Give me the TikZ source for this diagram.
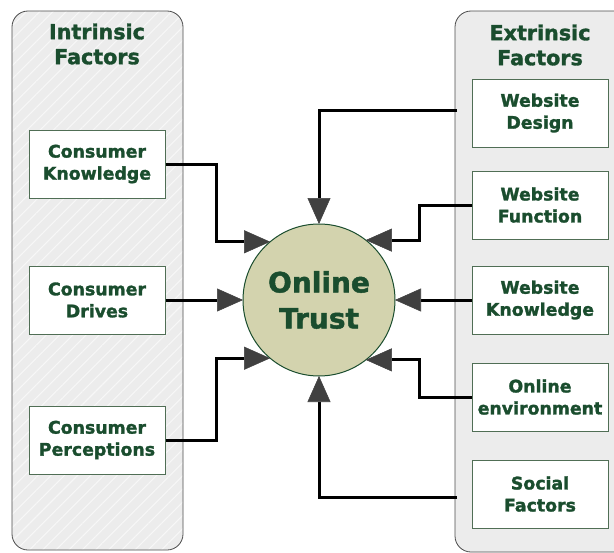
\documentclass[tikz,border=0pt]{standalone}
\usepackage{fontspec}
\setmainfont{DejaVu Sans}[BoldFeatures={FakeBold=1.6}]
\usetikzlibrary{arrows.meta,patterns.meta}
\definecolor{txtgreen}{RGB}{26,77,46}
\definecolor{boxedge}{RGB}{80,110,85}
\definecolor{trustfill}{RGB}{211,211,174}
\definecolor{panelgray}{RGB}{236,236,236}
\definecolor{tipgray}{RGB}{64,64,64}
\tikzset{every picture/.style={line width=0.75pt}}
\tikzset{
  factor/.style={draw=boxedge, fill=white, minimum width=102pt, minimum height=51pt, inner sep=0pt, align=center, text=txtgreen, font=\fontsize{13}{16.5}\selectfont\bfseries},
  heading/.style={align=center, text=txtgreen, font=\fontsize{15.5}{18.75}\selectfont\bfseries},
  panel/.style={draw=black!70, line width=0.6pt, rounded corners=12pt},
  link/.style={line width=2.25pt, -{Triangle[length=19.5pt,width=17.25pt,line width=0.4pt,fill=tipgray,color=tipgray]}}
}

\begin{document}
\begin{tikzpicture}[x=0.75pt,y=0.75pt,yscale=-1,xscale=1]
	\useasboundingbox (0,0) rectangle (614,553);

	%Panels
	\fill [panelgray, rounded corners=12pt] (12,11) rectangle (183,550);
	\pattern [pattern={Lines[angle=45,distance=7pt,line width=0.8pt]}, pattern color=white!60!panelgray, rounded corners=12pt] (12,11) rectangle (183,550);
	\draw [panel] (12,11) rectangle (183,550);
	\draw [panel, fill=panelgray] (455,11) rectangle (640,552);

	%Headings
	\node [heading] (intr) at (97,44) {Intrinsic\\Factors};
	\node [heading] (extr) at (540,45) {Extrinsic\\Factors};

	%Intrinsic factors
	\node [factor] (ck) at (97,164) {Consumer\\Knowledge};
	\node [factor] (cd) at (97,300) {Consumer\\Drives};
	\node [factor] (cp) at (97,440) {Consumer\\Perceptions};

	%Extrinsic factors
	\node [factor] (wd) at (540,113) {Website\\Design};
	\node [factor] (wf) at (540,205) {Website\\Function};
	\node [factor] (wk) at (540,300) {Website\\Knowledge};
	\node [factor] (oe) at (540,397) {Online\\environment};
	\node [factor] (sf) at (540,494) {Social\\Factors};

	%Online trust
	\node [circle, draw=txtgreen, fill=trustfill, minimum size=114pt, inner sep=0pt, outer sep=0pt, align=center, text=txtgreen, font=\fontsize{21}{27}\selectfont\bfseries] (trust) at (319,300) {Online\\Trust};

	\coordinate (wdin) at (457,110);
	\coordinate (sfin) at (457,497);

	%Connectors
	\draw [link] (ck.east) -- ++(51,0) |- (trust.130);
	\draw [link] (cd.east) -- (trust.west);
	\draw [link] (cp.east) -- ++(51,0) |- (trust.230);
	\draw [link] (wdin) -| (trust.north);
	\draw [link] (wf.west) -- ++(-52,0) |- (trust.52);
	\draw [link] (wk.west) -- (trust.east);
	\draw [link] (oe.west) -- ++(-52,0) |- (trust.-52);
	\draw [link] (sfin) -| (trust.south);

\end{tikzpicture}
\end{document}
